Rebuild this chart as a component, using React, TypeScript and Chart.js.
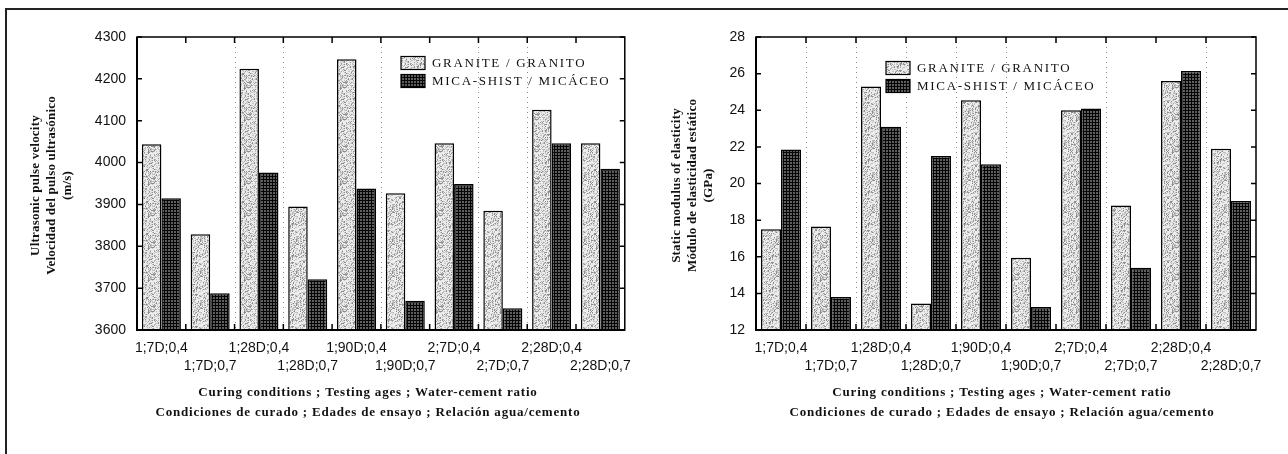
import { useEffect, useRef } from "react";
import { Chart, registerables } from "chart.js";

Chart.register(...registerables);

// Curing condition ; testing age ; water-cement ratio
const categories = [
  "1;7D;0,4",
  "1;7D;0,7",
  "1;28D;0,4",
  "1;28D;0,7",
  "1;90D;0,4",
  "1;90D;0,7",
  "2;7D;0,4",
  "2;7D;0,7",
  "2;28D;0,4",
  "2;28D;0,7",
];

const seriesNames = ["GRANITE / GRANITO", "MICA-SHIST / MICÁCEO"];

// Ultrasonic pulse velocity (m/s)
const granitePulse = [4044, 3829, 4224, 3895, 4247, 3927, 4046, 3885, 4126, 4046];
const micaPulse = [3915, 3688, 3976, 3721, 3938, 3670, 3949, 3652, 4046, 3985];
const pulseRange = [3600, 4300];
const pulseStep = 100;

// Static modulus of elasticity (GPa)
const graniteModulus = [17.5, 17.65, 25.3, 13.45, 24.55, 15.95, 24.0, 18.8, 25.6, 21.9];
const micaModulus = [21.85, 13.8, 23.1, 21.5, 21.05, 13.25, 24.1, 15.4, 26.15, 19.05];
const modulusRange = [12, 28];
const modulusStep = 2;

const pulseTitle = ["Ultrasonic pulse velocity", "Velocidad del pulso ultrasónico", "(m/s)"];
const modulusTitle = ["Static modulus of elasticity", "Módulo de elasticidad estático", "(GPa)"];
const xTitle = [
  "Curing conditions ; Testing ages ; Water-cement ratio",
  "Condiciones de curado ; Edades de ensayo ; Relación agua/cemento",
];

// neighbouring category labels sit on alternating rows
const tickLabels = categories.map((c, i) => (i % 2 === 0 ? [c, ""] : ["", c]));

const SANS = "'Liberation Sans', Arial, Helvetica, sans-serif";
const SERIF = "'Liberation Serif', 'Times New Roman', Times, serif";

function hash(x: number, y: number): number {
  let h = Math.imul(x, 374761393) + Math.imul(y, 668265263);
  h = Math.imul(h ^ (h >>> 13), 1274126177);
  h = h ^ (h >>> 16);
  return ((h >>> 0) % 10000) / 10000;
}

// light stippled fill
function granitePattern(ctx: CanvasRenderingContext2D): CanvasPattern | string {
  const size = 32;
  const c = document.createElement("canvas");
  c.width = size;
  c.height = size;
  const g = c.getContext("2d");
  if (!g) return "#cccccc";
  const img = g.createImageData(size, size);
  for (let y = 0; y < size; y++) {
    for (let x = 0; x < size; x++) {
      const v = hash(x + 11, y + 7);
      const streak = (x + y) % 7 === 0 && hash(x, y + 99) < 0.35;
      let s = v < 0.14 ? 140 : v < 0.4 ? 192 : 236;
      if (streak) s = Math.min(s, 160);
      const k = (y * size + x) * 4;
      img.data[k] = s;
      img.data[k + 1] = s;
      img.data[k + 2] = s;
      img.data[k + 3] = 255;
    }
  }
  g.putImageData(img, 0, 0);
  return ctx.createPattern(c, "repeat") || "#cccccc";
}

// dark cross-hatched fill
function micaPattern(ctx: CanvasRenderingContext2D): CanvasPattern | string {
  const c = document.createElement("canvas");
  c.width = 3;
  c.height = 3;
  const g = c.getContext("2d");
  if (!g) return "#303030";
  g.fillStyle = "#050505";
  g.fillRect(0, 0, 3, 3);
  g.fillStyle = "#5e5e5e";
  g.fillRect(0, 0, 2, 2);
  return ctx.createPattern(c, "repeat") || "#303030";
}

type PanelSpec = {
  granite: number[];
  mica: number[];
  range: number[];
  step: number;
  yTitle: string[];
  canvasWidth: number;
  yAxisWidth: number;
  padRight: number;
  yTitleX: number[];
  legendX: number;
  legendY: number[];
  xTitleX: number;
  dotted: number[];
};

const pulsePanel: PanelSpec = {
  granite: granitePulse,
  mica: micaPulse,
  range: pulseRange,
  step: pulseStep,
  yTitle: pulseTitle,
  canvasWidth: 640,
  yAxisWidth: 137,
  padRight: 5,
  yTitleX: [36, 52, 68],
  legendX: 401,
  legendY: [63, 81],
  xTitleX: 368,
  dotted: [2, 3, 5, 7, 8],
};

const modulusPanel: PanelSpec = {
  granite: graniteModulus,
  mica: micaModulus,
  range: modulusRange,
  step: modulusStep,
  yTitle: modulusTitle,
  canvasWidth: 648,
  yAxisWidth: 116,
  padRight: 32,
  yTitleX: [37, 53, 69],
  legendX: 246,
  legendY: [68, 86],
  xTitleX: 362,
  dotted: [1, 2, 3, 4, 5, 7, 9],
};

const HEIGHT = 454;

function Panel({ spec, left }: { spec: PanelSpec; left: number }) {
  const ref = useRef<HTMLCanvasElement | null>(null);

  useEffect(() => {
    const canvas = ref.current;
    if (!canvas) return;
    const ctx = canvas.getContext("2d");
    if (!ctx) return;
    const fills = [granitePattern(ctx), micaPattern(ctx)];

    const decor = {
      id: "panelDecor",
      beforeDatasetsDraw(chart: any) {
        const { ctx: c, chartArea: a } = chart;
        const n = categories.length;
        const w = (a.right - a.left) / n;
        c.save();
        c.strokeStyle = "#8a8a8a";
        c.lineWidth = 1;
        c.setLineDash([1, 4]);
        for (const b of spec.dotted) {
          const x = Math.round(a.left + b * w) + 0.5;
          c.beginPath();
          c.moveTo(x, a.top);
          c.lineTo(x, a.bottom);
          c.stroke();
        }
        c.restore();
      },
      afterDraw(chart: any) {
        const { ctx: c, chartArea: a, scales } = chart;
        const ys = scales.y;
        const n = categories.length;
        const w = (a.right - a.left) / n;
        c.save();
        c.strokeStyle = "#000";
        c.setLineDash([]);
        // plot frame
        c.lineWidth = 1.5;
        c.strokeRect(a.left, a.top, a.right - a.left, a.bottom - a.top);
        c.lineWidth = 2;
        c.beginPath();
        c.moveTo(a.left, a.top);
        c.lineTo(a.left, a.bottom);
        c.lineTo(a.right, a.bottom);
        c.stroke();
        // inward tick marks
        c.lineWidth = 1.5;
        c.beginPath();
        for (let v = spec.range[0]; v <= spec.range[1]; v += spec.step) {
          const y = ys.getPixelForValue(v);
          c.moveTo(a.left, y);
          c.lineTo(a.left + 5, y);
          c.moveTo(a.right, y);
          c.lineTo(a.right - 5, y);
        }
        for (let i = 1; i < n; i++) {
          const x = a.left + i * w;
          c.moveTo(x, a.top);
          c.lineTo(x, a.top + 6);
          c.moveTo(x, a.bottom);
          c.lineTo(x, a.bottom - 6);
        }
        c.stroke();

        // legend
        c.font = `13px ${SERIF}`;
        c.textBaseline = "middle";
        c.textAlign = "left";
        (c as any).letterSpacing = "1.7px";
        seriesNames.forEach((name, i) => {
          const cy = spec.legendY[i];
          c.fillStyle = fills[i] as any;
          c.fillRect(spec.legendX, cy - 6.5, 24, 13);
          c.lineWidth = 1.2;
          c.strokeStyle = "#000";
          c.strokeRect(spec.legendX, cy - 6.5, 24, 13);
          c.fillStyle = "#111";
          c.fillText(name, spec.legendX + 31, cy + 0.5);
        });

        // axis titles
        (c as any).letterSpacing = "0.2px";
        c.fillStyle = "#111";
        c.textAlign = "center";
        c.font = `bold 13px ${SERIF}`;
        const cy = (a.top + a.bottom) / 2 + 2;
        spec.yTitle.forEach((line, i) => {
          c.save();
          c.translate(spec.yTitleX[i], cy);
          c.rotate(-Math.PI / 2);
          c.fillText(line, 0, 0);
          c.restore();
        });
        c.font = `bold 13px ${SERIF}`;
        (c as any).letterSpacing = "0.8px";
        c.fillText(xTitle[0], spec.xTitleX, 393);
        c.fillText(xTitle[1], spec.xTitleX, 413);
        c.restore();
      },
    };

    const chart = new Chart(canvas, {
      type: "bar",
      data: {
        labels: tickLabels as any,
        datasets: [
          {
            label: seriesNames[0],
            data: spec.granite,
            backgroundColor: fills[0] as any,
            borderColor: "#000",
            borderWidth: 1.5,
          },
          {
            label: seriesNames[1],
            data: spec.mica,
            backgroundColor: fills[1] as any,
            borderColor: "#000",
            borderWidth: 1.5,
          },
        ],
      },
      options: {
        responsive: false,
        animation: false,
        devicePixelRatio: 1,
        layout: { padding: { top: 37, right: spec.padRight, left: 0, bottom: 0 } },
        datasets: { bar: { categoryPercentage: 0.8, barPercentage: 1.0 } },
        plugins: {
          legend: { display: false },
          tooltip: { enabled: false },
          title: { display: false },
        },
        scales: {
          x: {
            grid: { display: false, drawTicks: false },
            border: { display: false },
            ticks: {
              font: { family: SANS, size: 14, lineHeight: 1.3 },
              color: "#111",
              padding: 9,
              maxRotation: 0,
              minRotation: 0,
              autoSkip: false,
            },
            afterFit: (s: any) => {
              s.height = 124;
            },
          },
          y: {
            min: spec.range[0],
            max: spec.range[1],
            grid: { display: false, drawTicks: false },
            border: { display: false },
            ticks: {
              stepSize: spec.step,
              font: { family: SANS, size: 14 },
              color: "#111",
              padding: 11,
              callback: (v: any) => String(v),
            },
            afterFit: (s: any) => {
              s.width = spec.yAxisWidth;
            },
          },
        },
      },
      plugins: [decor],
    });

    return () => chart.destroy();
  }, [spec]);

  return (
    <canvas
      ref={ref}
      width={spec.canvasWidth}
      height={HEIGHT}
      style={{
        position: "absolute",
        left,
        top: 0,
        width: spec.canvasWidth,
        height: HEIGHT,
      }}
    />
  );
}

export default function App() {
  return (
    <div
      style={{
        position: "absolute",
        left: 0,
        top: 0,
        width: 1288,
        height: HEIGHT,
        overflow: "hidden",
        background: "#fff",
      }}
    >
      <div
        style={{
          position: "absolute",
          left: 5,
          top: 8,
          width: 1300,
          height: 470,
          borderTop: "2px solid #222",
          borderLeft: "2px solid #222",
        }}
      />
      <Panel spec={pulsePanel} left={0} />
      <Panel spec={modulusPanel} left={640} />
    </div>
  );
}
